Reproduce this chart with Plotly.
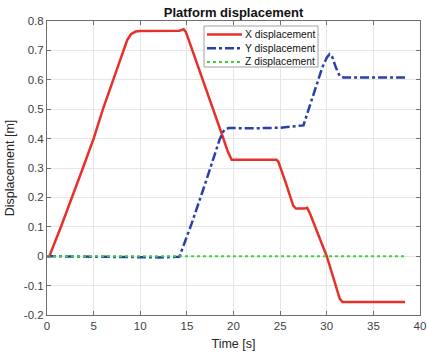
import plotly.graph_objects as go

# Time / value samples
x_time = [0.0, 0.25, 1.5, 2.7, 3.85, 5.0, 6.0, 7.1, 8.2, 8.6, 9.0, 9.5, 10.0, 14.2, 14.45, 14.65, 14.9,
          16.0, 17.5, 18.7, 19.4, 19.8, 24.6, 24.8, 25.6, 26.4, 26.7, 27.6, 27.9, 28.2, 30.0, 31.4, 31.7, 38.4]
x_disp = [0.0, 0.0, 0.1, 0.2, 0.3, 0.4, 0.5, 0.6, 0.7, 0.735, 0.755, 0.764, 0.766, 0.767, 0.77, 0.772, 0.762,
          0.665, 0.53, 0.42, 0.355, 0.328, 0.328, 0.322, 0.25, 0.172, 0.162, 0.162, 0.165, 0.145, 0.0, -0.145, -0.156, -0.156]

y_time = [0.0, 3.0, 6.0, 8.0, 10.0, 12.0, 14.2, 15.5, 17.0, 18.5, 19.0, 19.5, 22.0, 25.0, 27.5, 28.5, 29.5,
          30.0, 30.3, 30.6, 31.0, 31.4, 31.8, 38.4]
y_disp = [0.0, -0.001, -0.002, -0.005, -0.005, -0.004, -0.002, 0.11, 0.25, 0.396, 0.43, 0.436, 0.435, 0.437, 0.445,
          0.54, 0.64, 0.675, 0.687, 0.677, 0.64, 0.612, 0.608, 0.608]

z_time = [0.0, 38.4]
z_disp = [0.0, 0.0]

x_ticks = [0, 5, 10, 15, 20, 25, 30, 35, 40]
y_ticks = [-0.2, -0.1, 0, 0.1, 0.2, 0.3, 0.4, 0.5, 0.6, 0.7, 0.8]
y_tick_text = ["-0.2", "-0.1", "0", "0.1", "0.2", "0.3", "0.4", "0.5", "0.6", "0.7", "0.8"]

series_names = ["X displacement", "Y displacement", "Z displacement"]
series_colors = ["#e8302a", "#2a3fa8", "#3fd23f"]
series_dash = ["solid", "dashdot", "dot"]
series_width = [2.5, 2.5, 2]

FONT = "Liberation Sans, Arial, sans-serif"

fig = go.Figure()
for name, tx, vy, col, dsh, w in zip(series_names, [x_time, y_time, z_time], [x_disp, y_disp, z_disp],
                                      series_colors, series_dash, series_width):
    fig.add_trace(go.Scatter(x=tx, y=vy, mode="lines", name=name, showlegend=False,
                             line=dict(color=col, width=w, dash=dsh)))

axis_common = dict(showline=True, linecolor="#6e6e6e", linewidth=1, mirror="ticks",
                   ticks="inside", ticklen=4, tickcolor="#6e6e6e", automargin=False,
                   showgrid=True, gridcolor="#e6e6e6", gridwidth=1, zeroline=False,
                   tickfont=dict(family=FONT, size=11.5, color="#404040"))

# Plot area geometry (pixels) for the hand-drawn MATLAB-style legend box
W, H = 427, 356
ML, MR, MT, MB = 47, 7, 21, 41
pw, ph = W - ML - MR, H - MT - MB
px = lambda p: (p - ML) / pw
py = lambda p: (H - MB - p) / ph

shapes = [dict(type="rect", xref="paper", yref="paper",
               x0=px(204), x1=px(318), y0=py(67), y1=py(26),
               line=dict(color="#a0a0a0", width=1), fillcolor="white", layer="above")]
annotations = []
for i, (name, col, dsh, w) in enumerate(zip(series_names, series_colors, series_dash, series_width)):
    yy = py(34.5 + 13.7 * i)
    shapes.append(dict(type="line", xref="paper", yref="paper", x0=px(207), x1=px(242), y0=yy, y1=yy,
                       line=dict(color=col, width=w, dash=dsh), layer="above"))
    annotations.append(dict(xref="paper", yref="paper", x=px(243), y=yy, xanchor="left", yanchor="middle",
                            text=name, showarrow=False,
                            font=dict(family=FONT, size=10.3, color="#111111")))

fig.update_layout(
    width=W, height=H,
    margin=dict(l=ML, r=MR, t=MT, b=MB),
    paper_bgcolor="white", plot_bgcolor="white",
    title=dict(text="<b>Platform displacement</b>", x=0.5, xref="paper", xanchor="center",
               y=1, yref="paper", yanchor="bottom", pad=dict(b=4), automargin=False,
               font=dict(family=FONT, size=13, color="#111111")),
    xaxis=dict(range=[0, 40], tickvals=x_ticks,
               title=dict(text="Time [s]", font=dict(family=FONT, size=12.5, color="#262626"), standoff=8),
               **axis_common),
    yaxis=dict(range=[-0.2, 0.8], tickvals=y_ticks, ticktext=y_tick_text,
               title=dict(text="Displacement [m]", font=dict(family=FONT, size=12.5, color="#262626"), standoff=6),
               **axis_common),
    shapes=shapes,
    annotations=annotations,
    showlegend=False,
)

fig.write_html("out.html", config={"displayModeBar": False},
               post_script="document.body.style.margin='0';document.body.style.padding='0';")
